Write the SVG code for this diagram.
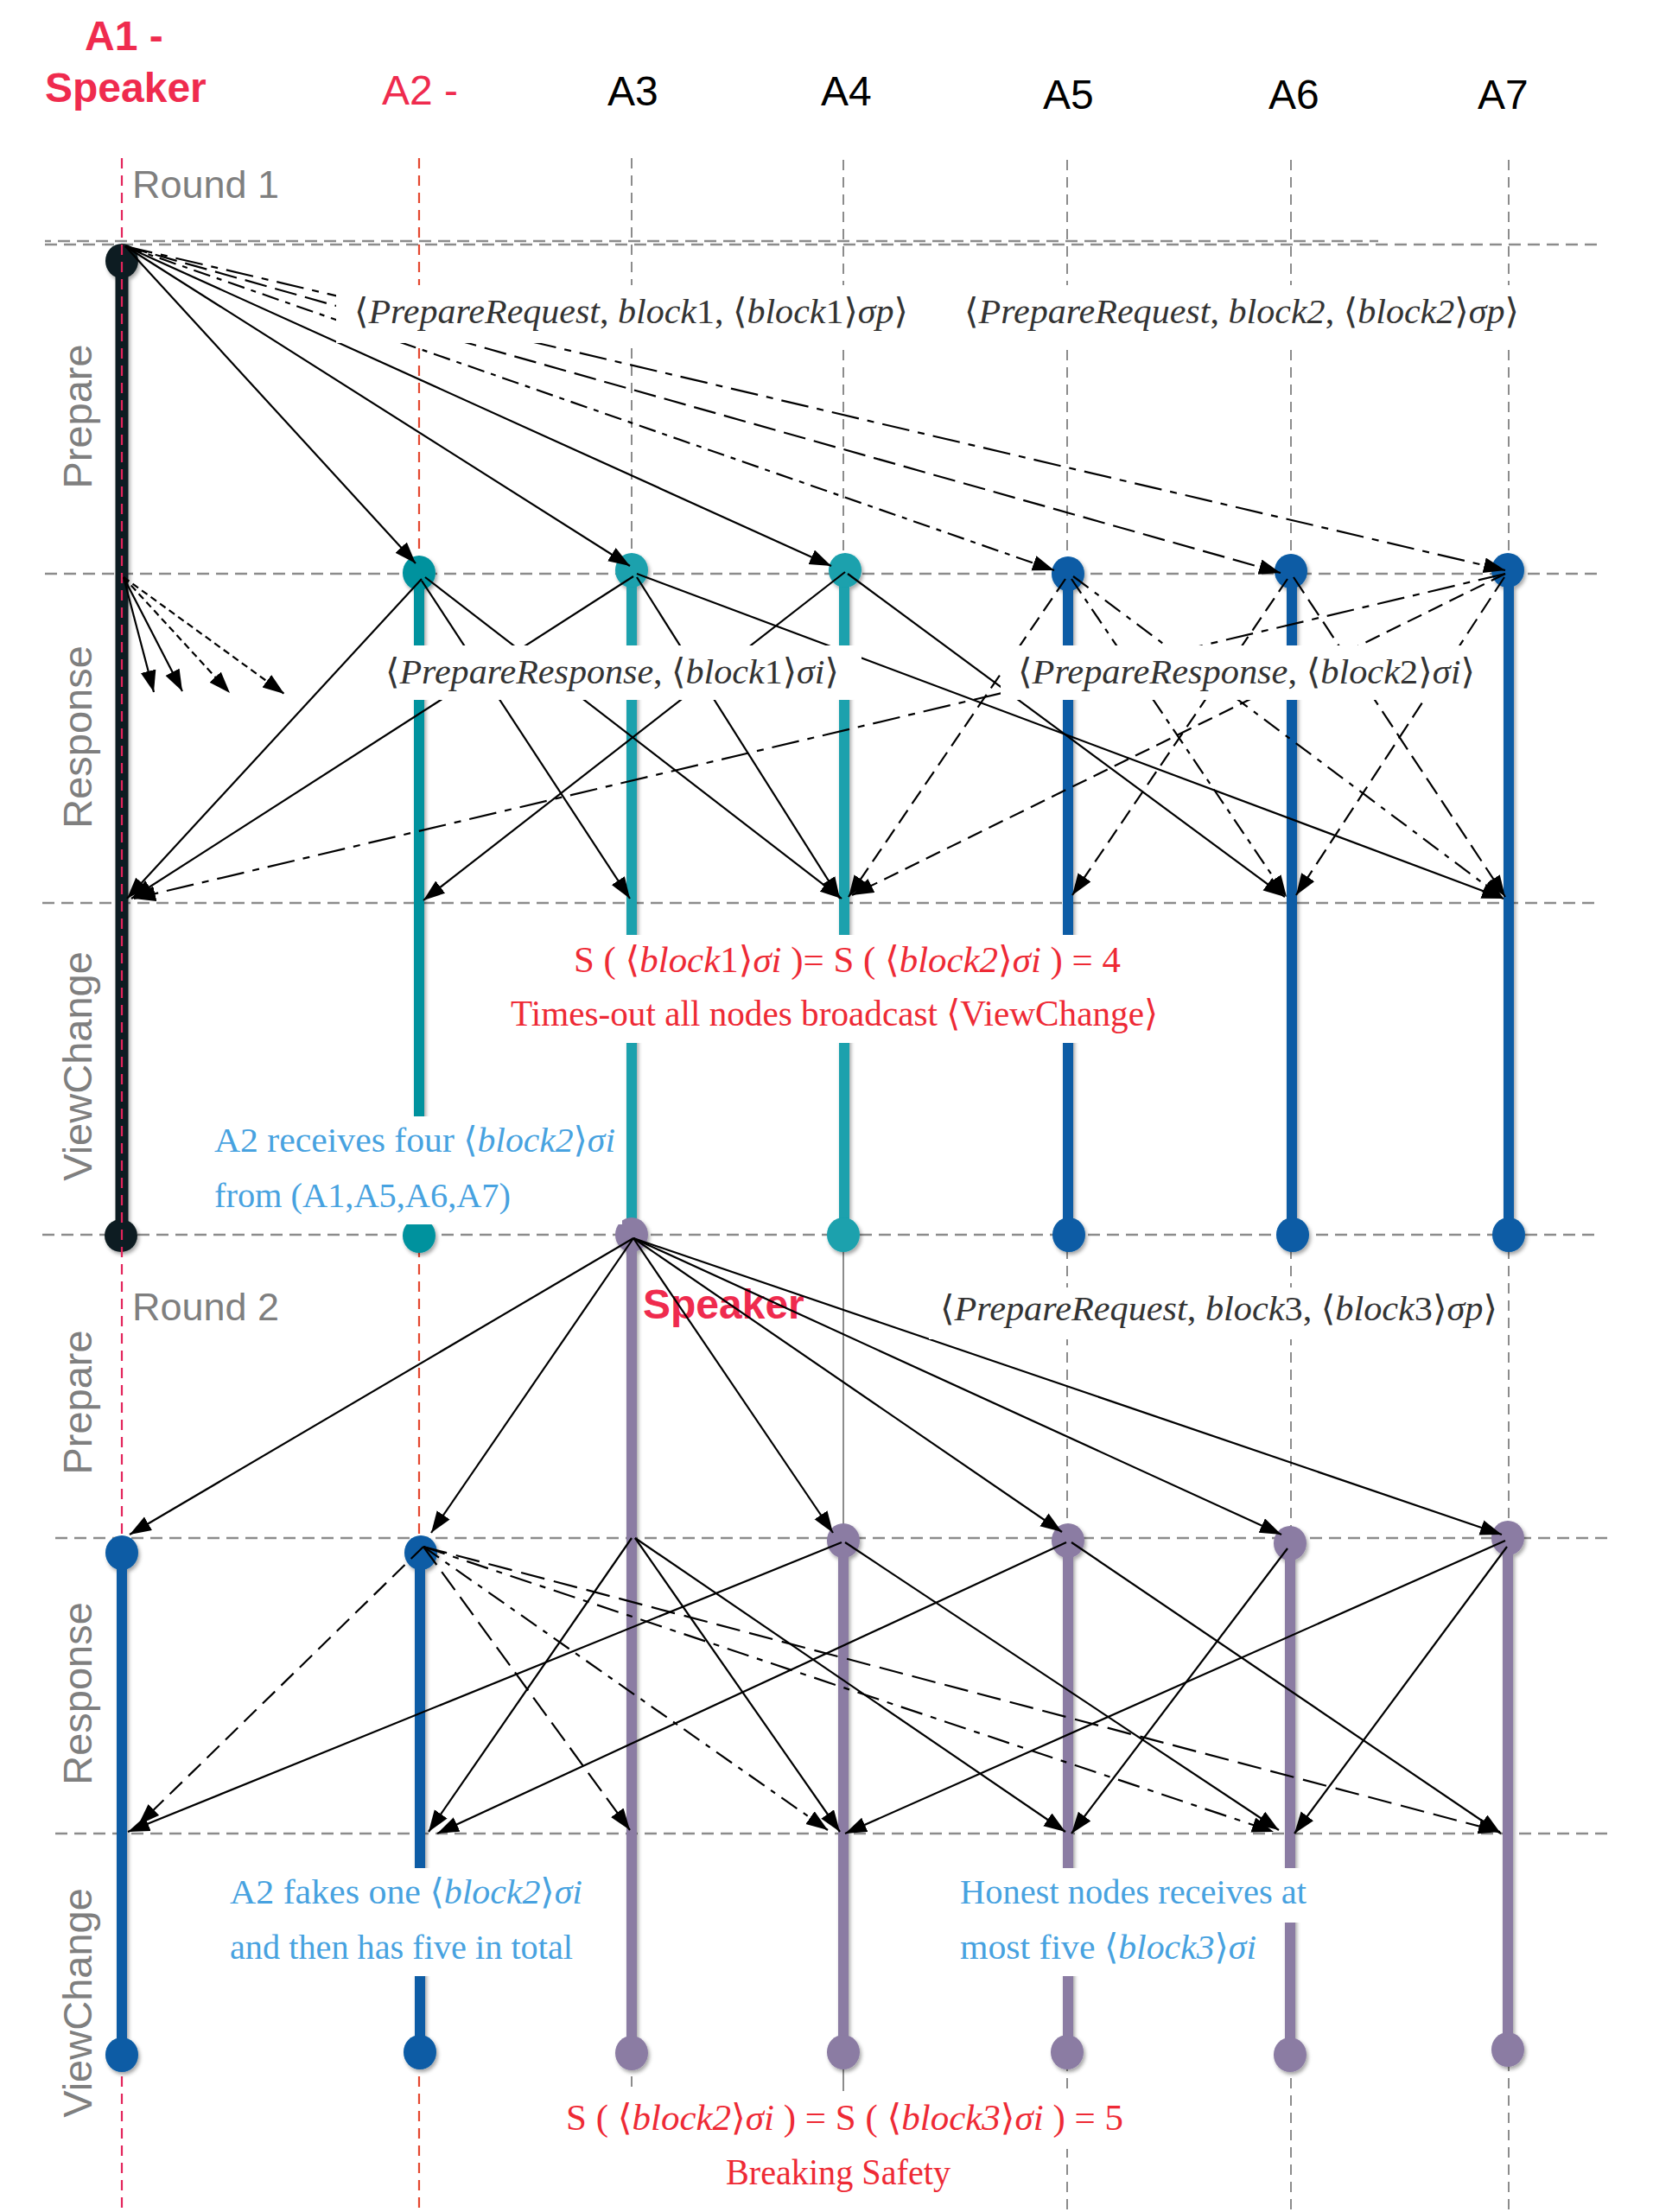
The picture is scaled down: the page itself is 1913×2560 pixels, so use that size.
<svg xmlns="http://www.w3.org/2000/svg" width="1913" height="2560" viewBox="0 0 1913 2560">
<style>
.hdr{font-family:"Liberation Sans",Arial,sans-serif;font-size:48px}
.red{fill:#ef2b4e}
.blk{fill:#000}
.bold{font-weight:bold}
.grayt{font-family:"Liberation Sans",Arial,sans-serif;fill:#7f7f7f}
.round{font-size:45px}
.phase{font-size:47px;text-anchor:middle}
.m{font-family:"Liberation Serif","Times New Roman","DejaVu Serif",serif;font-size:41px;fill:#333}
.rt{font-family:"Liberation Serif","Times New Roman","DejaVu Serif",serif;font-size:42px;fill:#ee2a35}
.bt{font-family:"Liberation Serif","Times New Roman","DejaVu Serif",serif;font-size:41px;fill:#47a2e0}
.i{font-style:italic}
.grid{stroke:#8c8c8c;stroke-width:2.5;stroke-dasharray:14 8;fill:none}
.life{stroke:#8c8c8c;stroke-width:2;stroke-dasharray:12 8;fill:none}
.lifes{stroke:#8c8c8c;stroke-width:2;fill:none}
.bar{stroke-width:12;fill:none}
.dk{stroke:#0f1e21}.dkf{fill:#0f1e21}
.tl{stroke:#00929e}.tlf{fill:#00929e}
.tl2{stroke:#1aa1ad}.tl2f{fill:#1aa1ad}
.bl{stroke:#085ba5}.blf{fill:#085ba5}
.pu{stroke:#8b7ca3}.puf{fill:#8b7ca3}
.ar{stroke:#000;stroke-width:2.2;fill:none;marker-end:url(#ah)}
.wb{fill:#fff}
</style>
<defs>
<marker id="ah" markerUnits="userSpaceOnUse" markerWidth="28" markerHeight="20" refX="25" refY="9" orient="auto"><path d="M0,0 L25,9 L0,18 z" fill="#000"/></marker>
<filter id="sh" filterUnits="userSpaceOnUse" x="0" y="0" width="1913" height="2560"><feDropShadow dx="2" dy="3" stdDeviation="2" flood-color="#000" flood-opacity="0.35"/></filter>
</defs>
<rect width="1913" height="2560" fill="#fff"/>

<g id="phases">
<line class="grid" x1="52" y1="279" x2="1595" y2="279" stroke-dashoffset="7"/>
<line class="grid" x1="52" y1="283" x2="1852" y2="283"/>
<line class="grid" x1="52" y1="664" x2="1852" y2="664"/>
<line class="grid" x1="49" y1="1045" x2="1852" y2="1045"/>
<line class="grid" x1="49" y1="1429" x2="1852" y2="1429"/>
<line class="grid" x1="64" y1="1780" x2="1865" y2="1780"/>
<line class="grid" x1="64" y1="2122" x2="1865" y2="2122"/>
</g>

<g id="phase-labels" class="grayt">
<text class="round" x="153" y="229">Round 1</text>
<text class="round" x="153" y="1528">Round 2</text>
<text class="phase" transform="translate(106,482) rotate(-90)">Prepare</text>
<text class="phase" transform="translate(106,853) rotate(-90)">Response</text>
<text class="phase" transform="translate(106,1234) rotate(-90)">ViewChange</text>
<text class="phase" transform="translate(106,1623) rotate(-90)">Prepare</text>
<text class="phase" transform="translate(106,1960) rotate(-90)">Response</text>
<text class="phase" transform="translate(106,2318) rotate(-90)">ViewChange</text>
</g>

<g id="A1">
<text class="hdr red bold" x="98" y="58">A1 -</text>
<text class="hdr red bold" x="52" y="118">Speaker</text>
<g filter="url(#sh)">
<line class="dk" stroke-width="15" x1="141" y1="300" x2="141" y2="1430"/>
<ellipse class="dkf" cx="141" cy="302" rx="19" ry="20"/>
<ellipse class="dkf" cx="140" cy="1430" rx="19" ry="19"/>
</g>
<line x1="141" y1="183" x2="141" y2="2560" stroke="#e3245b" stroke-width="2.2" stroke-dasharray="12 8"/>
<g filter="url(#sh)">
<line class="bar bl" x1="141" y1="1797" x2="141" y2="2378"/>
<ellipse class="blf" cx="141" cy="1797" rx="19" ry="20"/>
<ellipse class="blf" cx="141" cy="2378" rx="19" ry="20"/>
</g>
</g>

<g id="A2">
<text class="hdr red" x="442" y="121">A2 -</text>
<line x1="485" y1="183" x2="485" y2="2560" stroke="#e4472f" stroke-width="2.2" stroke-dasharray="12 8"/>
<g filter="url(#sh)">
<line class="bar tl" x1="485" y1="663" x2="485" y2="1429"/>
<ellipse class="tlf" cx="485" cy="663" rx="19" ry="20"/>
<ellipse class="tlf" cx="485" cy="1430" rx="19" ry="20"/>
<line class="bar bl" x1="486" y1="1797" x2="486" y2="2376"/>
<ellipse class="blf" cx="487" cy="1797" rx="19" ry="20"/>
<ellipse class="blf" cx="486" cy="2375" rx="19" ry="20"/>
</g>
</g>

<g id="A3">
<text class="hdr blk" x="703" y="122">A3</text>
<line class="life" x1="731" y1="183" x2="731" y2="2420"/>
<g filter="url(#sh)">
<line class="bar tl2" x1="731" y1="660" x2="731" y2="1429"/>
<ellipse class="tl2f" cx="731" cy="660" rx="19" ry="20"/>
<line class="bar pu" x1="731" y1="1429" x2="731" y2="2376"/>
<ellipse class="puf" cx="731" cy="1429" rx="19" ry="20"/>
<ellipse class="puf" cx="731" cy="2376" rx="19" ry="20"/>
</g>
<text class="hdr red bold" x="744" y="1526">Speaker</text>
</g>

<g id="A4">
<text class="hdr blk" x="950" y="122">A4</text>
<line class="life" x1="976" y1="185" x2="976" y2="1415"/>
<line class="lifes" x1="976" y1="1445" x2="976" y2="1770"/>
<line class="lifes" x1="976" y1="2395" x2="976" y2="2420"/>
<g filter="url(#sh)">
<line class="bar tl2" x1="977" y1="660" x2="977" y2="1429"/>
<ellipse class="tl2f" cx="978" cy="660" rx="19" ry="20"/>
<ellipse class="tl2f" cx="976" cy="1429" rx="19" ry="20"/>
<line class="bar pu" x1="976" y1="1783" x2="976" y2="2375"/>
<ellipse class="puf" cx="976" cy="1783" rx="19" ry="20"/>
<ellipse class="puf" cx="976" cy="2375" rx="19" ry="20"/>
</g>
</g>

<g id="A5">
<text class="hdr blk" x="1207" y="126">A5</text>
<line class="life" x1="1235" y1="185" x2="1235" y2="2560"/>
<g filter="url(#sh)">
<line class="bar bl" x1="1236" y1="664" x2="1236" y2="1429"/>
<ellipse class="blf" cx="1236" cy="664" rx="19" ry="20"/>
<ellipse class="blf" cx="1237" cy="1429" rx="19" ry="20"/>
<line class="bar pu" x1="1236" y1="1783" x2="1236" y2="2375"/>
<ellipse class="puf" cx="1236" cy="1783" rx="19" ry="20"/>
<ellipse class="puf" cx="1235" cy="2375" rx="19" ry="20"/>
</g>
</g>

<g id="A6">
<text class="hdr blk" x="1468" y="126">A6</text>
<line class="life" x1="1494" y1="185" x2="1494" y2="2560"/>
<g filter="url(#sh)">
<line class="bar bl" x1="1495" y1="661" x2="1495" y2="1429"/>
<ellipse class="blf" cx="1494" cy="661" rx="19" ry="20"/>
<ellipse class="blf" cx="1496" cy="1429" rx="19" ry="20"/>
<line class="bar pu" x1="1493" y1="1786" x2="1493" y2="2378"/>
<ellipse class="puf" cx="1493" cy="1786" rx="19" ry="20"/>
<ellipse class="puf" cx="1493" cy="2378" rx="19" ry="20"/>
</g>
</g>

<g id="A7">
<text class="hdr blk" x="1710" y="126">A7</text>
<line class="life" x1="1746" y1="185" x2="1746" y2="2560"/>
<g filter="url(#sh)">
<line class="bar bl" x1="1746" y1="660" x2="1746" y2="1429"/>
<ellipse class="blf" cx="1745" cy="660" rx="19" ry="20"/>
<ellipse class="blf" cx="1746" cy="1429" rx="19" ry="20"/>
<line class="bar pu" x1="1745" y1="1780" x2="1745" y2="2372"/>
<ellipse class="puf" cx="1745" cy="1780" rx="19" ry="20"/>
<ellipse class="puf" cx="1745" cy="2372" rx="19" ry="20"/>
</g>
</g>

<g id="connectors">
<!-- round 1 prepare -->
<line class="ar" x1="145" y1="285" x2="481" y2="652"/>
<line class="ar" x1="145" y1="285" x2="729" y2="655"/>
<line class="ar" x1="145" y1="285" x2="962" y2="655"/>
<line class="ar" x1="145" y1="285" x2="1220" y2="660" stroke-dasharray="20 8 6 8"/>
<line class="ar" x1="145" y1="285" x2="1482" y2="663" stroke-dasharray="26 10"/>
<line class="ar" x1="145" y1="285" x2="1742" y2="660" stroke-dasharray="32 10 8 10"/>
<!-- A1 response stubs -->
<line class="ar" x1="143" y1="668" x2="178" y2="801"/>
<line class="ar" x1="143" y1="668" x2="211" y2="800"/>
<line class="ar" x1="143" y1="668" x2="266" y2="802" stroke-dasharray="8 5"/>
<line class="ar" x1="143" y1="668" x2="329" y2="803" stroke-dasharray="8 5"/>
<!-- round 1 response block1 -->
<line class="ar" x1="488" y1="670" x2="147" y2="1040"/>
<line class="ar" x1="488" y1="672" x2="729" y2="1040"/>
<line class="ar" x1="492" y1="668" x2="974" y2="1040"/>
<line class="ar" x1="733" y1="667" x2="152" y2="1040"/>
<line class="ar" x1="737" y1="668" x2="972" y2="1040"/>
<line class="ar" x1="737" y1="664" x2="1740" y2="1040"/>
<line class="ar" x1="978" y1="662" x2="490" y2="1042"/>
<line class="ar" x1="981" y1="664" x2="1487" y2="1038"/>
<!-- round 1 response block2 -->
<line class="ar" x1="1233" y1="670" x2="982" y2="1038" stroke-dasharray="18 9"/>
<line class="ar" x1="1240" y1="670" x2="1489" y2="1038" stroke-dasharray="20 8 6 8"/>
<line class="ar" x1="1242" y1="667" x2="1740" y2="1040" stroke-dasharray="22 9 6 9"/>
<line class="ar" x1="1490" y1="670" x2="1241" y2="1036" stroke-dasharray="18 9"/>
<line class="ar" x1="1497" y1="668" x2="1742" y2="1038" stroke-dasharray="22 9"/>
<line class="ar" x1="1742" y1="664" x2="155" y2="1040" stroke-dasharray="32 10 8 10"/>
<line class="ar" x1="1742" y1="664" x2="986" y2="1036" stroke-dasharray="18 9"/>
<line class="ar" x1="1741" y1="668" x2="1500" y2="1036" stroke-dasharray="20 9"/>
<!-- round 2 prepare -->
<line class="ar" x1="733" y1="1433" x2="150" y2="1776"/>
<line class="ar" x1="733" y1="1433" x2="499" y2="1774"/>
<line class="ar" x1="733" y1="1433" x2="964" y2="1774"/>
<line class="ar" x1="733" y1="1433" x2="1229" y2="1773"/>
<line class="ar" x1="733" y1="1433" x2="1483" y2="1776"/>
<line class="ar" x1="733" y1="1433" x2="1738" y2="1776"/>
<!-- round 2 response -->
<line class="ar" x1="731" y1="1780" x2="496" y2="2120"/>
<line class="ar" x1="735" y1="1780" x2="972" y2="2120"/>
<line class="ar" x1="735" y1="1780" x2="1233" y2="2120"/>
<line class="ar" x1="974" y1="1785" x2="148" y2="2120"/>
<line class="ar" x1="978" y1="1785" x2="1480" y2="2118"/>
<line class="ar" x1="1234" y1="1785" x2="506" y2="2122"/>
<line class="ar" x1="1240" y1="1785" x2="1737" y2="2122"/>
<line class="ar" x1="1490" y1="1792" x2="1240" y2="2122"/>
<line class="ar" x1="1742" y1="1783" x2="978" y2="2122"/>
<line class="ar" x1="1744" y1="1790" x2="1498" y2="2122"/>
<line class="ar" x1="490" y1="1790" x2="160" y2="2112" stroke-dasharray="20 10"/>
<line class="ar" x1="490" y1="1790" x2="729" y2="2118" stroke-dasharray="26 10"/>
<line class="ar" x1="490" y1="1790" x2="958" y2="2118" stroke-dasharray="22 9 6 9"/>
<line class="ar" x1="490" y1="1790" x2="1474" y2="2120" stroke-dasharray="26 10 7 10"/>
<line class="ar" x1="490" y1="1790" x2="1736" y2="2120" stroke-dasharray="28 11"/>
</g>

<g id="labels">
<rect class="wb" x="389" y="330" width="672" height="67"/>
<rect class="wb" x="1100" y="330" width="672" height="67"/>
<rect class="wb" x="430" y="747" width="567" height="63"/>
<rect class="wb" x="1158" y="747" width="557" height="63"/>
<rect class="wb" x="580" y="1082" width="770" height="125"/>
<rect class="wb" x="240" y="1292" width="480" height="125"/>
<rect class="wb" x="1075" y="1490" width="670" height="60"/>
<rect class="wb" x="255" y="2162" width="430" height="125"/>
<rect class="wb" x="1100" y="2162" width="420" height="63"/>
<rect class="wb" x="1100" y="2225" width="365" height="62"/>
<rect class="wb" x="645" y="2420" width="665" height="67"/>
<rect class="wb" x="830" y="2487" width="280" height="73"/>

<text class="m" x="410" y="374" textLength="641" lengthAdjust="spacingAndGlyphs">⟨<tspan class="i">PrepareRequest</tspan>, <tspan class="i">block</tspan>1, ⟨<tspan class="i">block</tspan>1⟩<tspan class="i">σp</tspan>⟩</text>
<text class="m" x="1116" y="374" textLength="642" lengthAdjust="spacingAndGlyphs">⟨<tspan class="i">PrepareRequest</tspan>, <tspan class="i">block2</tspan>, ⟨<tspan class="i">block2</tspan>⟩<tspan class="i">σp</tspan>⟩</text>
<text class="m" x="446" y="791" textLength="525" lengthAdjust="spacingAndGlyphs">⟨<tspan class="i">PrepareResponse</tspan>, ⟨<tspan class="i">block</tspan>1⟩<tspan class="i">σi</tspan>⟩</text>
<text class="m" x="1178" y="791" textLength="529" lengthAdjust="spacingAndGlyphs">⟨<tspan class="i">PrepareResponse</tspan>, ⟨<tspan class="i">block</tspan>2⟩<tspan class="i">σi</tspan>⟩</text>
<text class="m" x="1088" y="1528" textLength="645" lengthAdjust="spacingAndGlyphs">⟨<tspan class="i">PrepareRequest</tspan>, <tspan class="i">block</tspan>3, ⟨<tspan class="i">block</tspan>3⟩<tspan class="i">σp</tspan>⟩</text>

<text class="rt" x="664" y="1125" textLength="633" lengthAdjust="spacingAndGlyphs">S ( ⟨<tspan class="i">block</tspan>1⟩<tspan class="i">σi</tspan> )= S ( ⟨<tspan class="i">block2</tspan>⟩<tspan class="i">σi</tspan> ) = 4</text>
<text class="rt" x="591" y="1187" textLength="749" lengthAdjust="spacingAndGlyphs">Times-out all nodes broadcast ⟨ViewChange⟩</text>
<text class="rt" x="655" y="2465" textLength="645" lengthAdjust="spacingAndGlyphs">S ( ⟨<tspan class="i">block2</tspan>⟩<tspan class="i">σi</tspan> ) = S ( ⟨<tspan class="i">block3</tspan>⟩<tspan class="i">σi</tspan> ) = 5</text>
<text class="rt" x="840" y="2528" textLength="260" lengthAdjust="spacingAndGlyphs">Breaking Safety</text>

<text class="bt" x="248" y="1333" textLength="464" lengthAdjust="spacingAndGlyphs">A2 receives four ⟨<tspan class="i">block2</tspan>⟩<tspan class="i">σi</tspan></text>
<text class="bt" x="248" y="1397" textLength="343" lengthAdjust="spacingAndGlyphs">from (A1,A5,A6,A7)</text>
<text class="bt" x="266" y="2203" textLength="408" lengthAdjust="spacingAndGlyphs">A2 fakes one ⟨<tspan class="i">block2</tspan>⟩<tspan class="i">σi</tspan></text>
<text class="bt" x="266" y="2267" textLength="397" lengthAdjust="spacingAndGlyphs">and then has five in total</text>
<text class="bt" x="1111" y="2203" textLength="401" lengthAdjust="spacingAndGlyphs">Honest nodes receives at</text>
<text class="bt" x="1111" y="2267" textLength="343" lengthAdjust="spacingAndGlyphs">most five ⟨<tspan class="i">block3</tspan>⟩<tspan class="i">σi</tspan></text>
</g>
</svg>
